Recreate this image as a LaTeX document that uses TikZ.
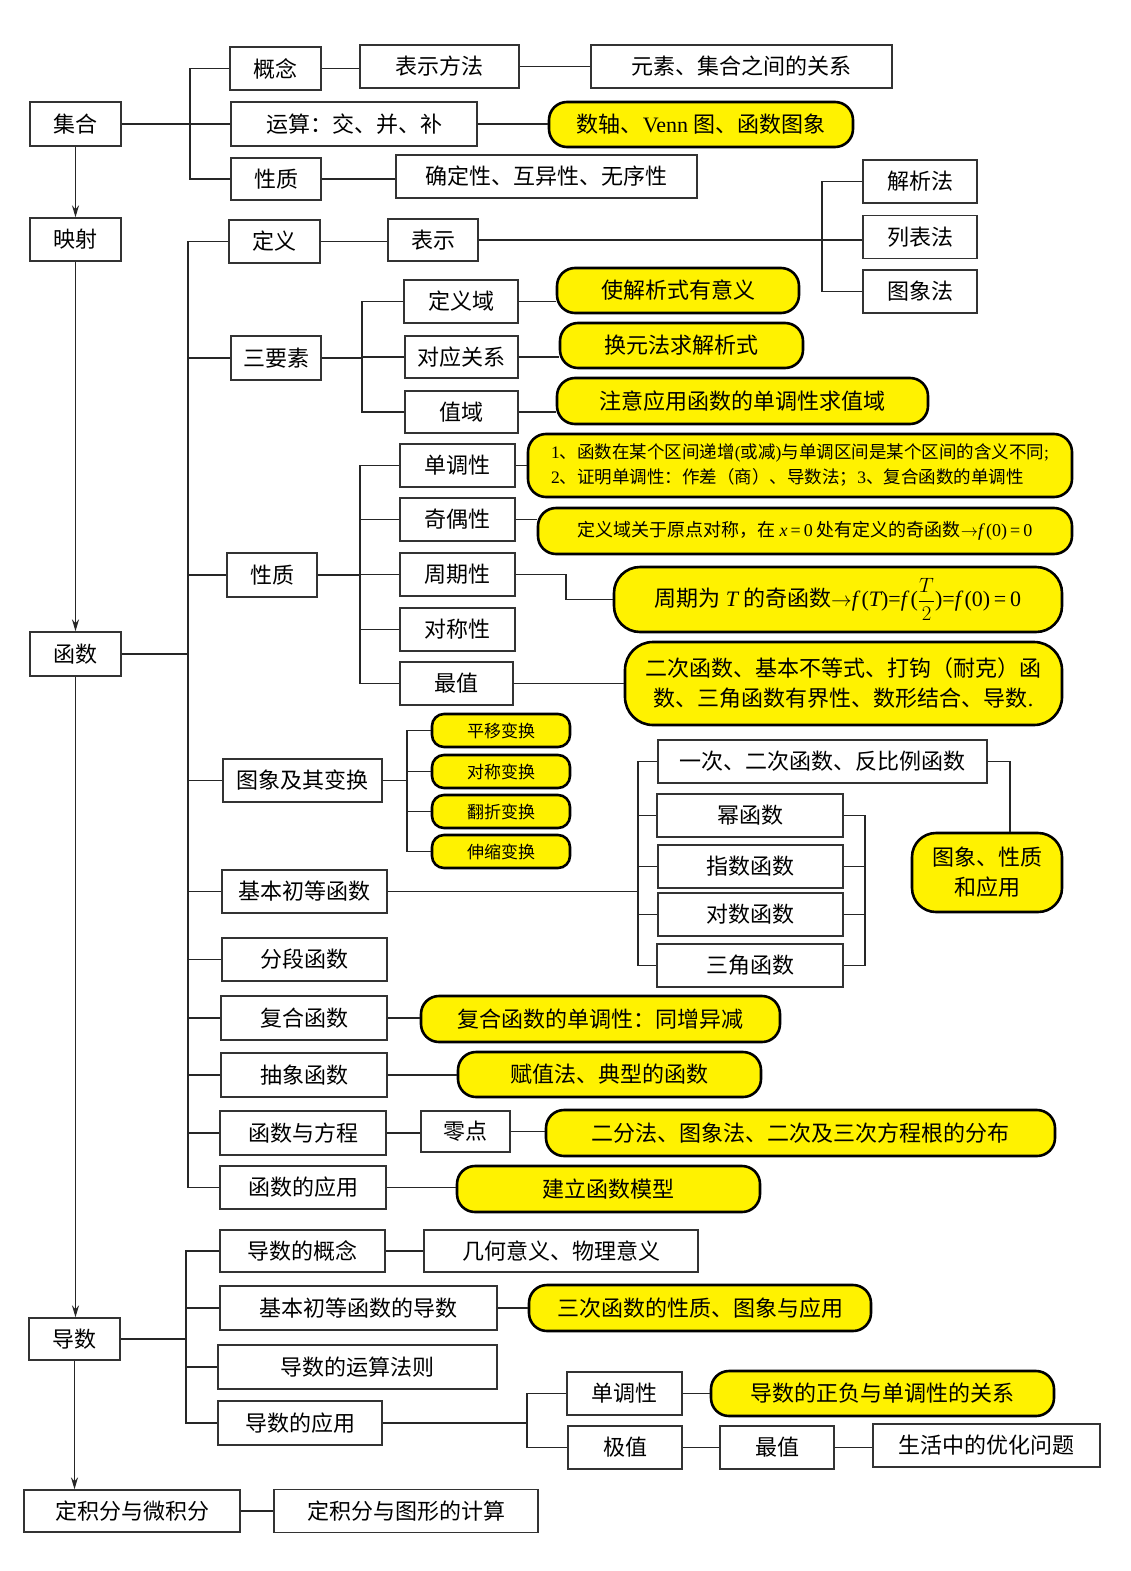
\documentclass[tikz,border=0pt]{standalone}
\usepackage{fontspec}
\setmainfont{Liberation Serif}
\newfontfamily\cjk{Noto Sans CJK SC}
\usetikzlibrary{arrows.meta}
\newcommand\myit[1]{{\rmfamily\itshape #1}}
\newcommand\myrm[1]{{\rmfamily #1}}
\begin{document}
\begin{tikzpicture}[x=1pt,y=-1pt]
\tikzset{
 box/.style={draw=black!80, line width=1.4pt, fill=white, inner sep=0pt, font=\cjk\fontsize{22}{26}\selectfont, align=center},
 ybox/.style={draw=black, line width=2.6pt, fill=yellow, rounded corners=18pt, inner sep=0pt, font=\cjk\fontsize{22}{26}\selectfont, align=center},
 sz/.style 2 args={minimum width=#1pt, minimum height=#2pt},
 ln/.style={line width=1.7pt, draw=black!85},
 arr/.style={line width=1.6pt, draw=black!85, -{Stealth[length=12pt,width=7pt,inset=4pt]}},
}
\useasboundingbox[fill=white] (0,0) rectangle (1130,1571);

% left column
\node[box,sz={91}{44}] (jihe) at (75.5,124) {集合};
\node[box,sz={91}{43}] (yingshe) at (75.5,239.5) {映射};
\node[box,sz={91}{44}] (hanshu) at (75.5,654) {函数};
\node[box,sz={91}{42}] (daoshu) at (74.5,1339) {导数};
\node[box,sz={216}{42}] (djf) at (132,1511) {定积分与微积分};
\node[box,sz={264}{43}] (djft) at (406,1511) {定积分与图形的计算};

% 集合 branch
\node[box,sz={91}{43}] (gn) at (275.5,68.5) {概念};
\node[box,sz={159}{43}] (bsff) at (439.5,66.5) {表示方法};
\node[box,sz={301}{43}] (ysjh) at (741.5,66.5) {元素、集合之间的关系};
\node[box,sz={246}{44}] (ys) at (354,124) {运算：交、并、补};
\node[ybox,sz={304}{45}] (venn) at (701,124.5) {数轴、\myrm{Venn} 图、函数图象};
\node[box,sz={90}{42}] (xz1) at (276,179) {性质};
\node[box,sz={301}{43}] (qd) at (546.5,176.5) {确定性、互异性、无序性};

% 函数 branch
\node[box,sz={91}{43}] (dy) at (274.5,241.5) {定义};
\node[box,sz={90}{42}] (bs) at (433,240) {表示};
\node[box,sz={114}{43}] (jxf) at (920,181.5) {解析法};
\node[box,sz={114}{43}] (lbf) at (920,237) {列表法};
\node[box,sz={114}{43}] (txf) at (920,291.5) {图象法};

\node[box,sz={90}{44}] (syz) at (276,358) {三要素};
\node[box,sz={114}{43}] (dyy) at (461,301.5) {定义域};
\node[box,sz={113}{42}] (dygx) at (461.5,357) {对应关系};
\node[box,sz={113}{42}] (zy) at (461.5,412) {值域};
\node[ybox,sz={242}{45}] (ya) at (678,290.5) {使解析式有意义};
\node[ybox,sz={243}{45}] (yb) at (681.5,345.5) {换元法求解析式};
\node[ybox,sz={371}{46}] (yc3) at (742.5,401) {注意应用函数的单调性求值域};

\node[box,sz={90}{44}] (xz2) at (272,575) {性质};
\node[box,sz={115}{43}] (ddx) at (457.5,465.5) {单调性};
\node[box,sz={115}{43}] (qox) at (457.5,519.5) {奇偶性};
\node[box,sz={115}{43}] (zqx) at (457.5,574.5) {周期性};
\node[box,sz={115}{43}] (dcx) at (457.5,629.5) {对称性};
\node[box,sz={113}{43}] (zz) at (456.5,683.5) {最值};
\node[ybox,sz={544}{63},align=left,font=\cjk\fontsize{17.5}{25}\selectfont] (yd) at (800,465.5)
  {\myrm{1}、函数在某个区间递增\myrm{(}或减\myrm{)}与单调区间是某个区间的含义不同\myrm{;}\\
   \myrm{2}、证明单调性：作差（商）、导数法；\myrm{3}、复合函数的单调性};
\node[ybox,sz={534}{46},font=\cjk\fontsize{18}{22}\selectfont] (ye) at (805,531)
  {定义域关于原点对称，在 \myit{x}\myrm{\,=\,0} 处有定义的奇函数$\to$\myit{f}\,\myrm{(0)\,=\,0}};
\node[ybox,sz={448}{65},rounded corners=26pt] (yf) at (838,599.5)
  {周期为 \myit{T} 的奇函数$\to$\myit{f}\,\myrm{(}\myit{T}\myrm{)=}\myit{f}\,\myrm{(}$\displaystyle\frac{T}{2}$\myrm{)=}\myit{f}\,\myrm{(0)\,=\,0}};
\node[ybox,sz={437}{83},rounded corners=28pt,font=\cjk\fontsize{22}{30}\selectfont] (yg) at (843.5,683.5)
  {二次函数、基本不等式、打钩（耐克）函\\数、三角函数有界性、数形结合、导数\myrm{.}};

\node[box,sz={159}{43}] (txbh) at (302.5,780.5) {图象及其变换};
\node[ybox,sz={138}{33},rounded corners=12pt,font=\cjk\fontsize{17}{20}\selectfont] (py) at (501,730.5) {平移变换};
\node[ybox,sz={138}{33},rounded corners=12pt,font=\cjk\fontsize{17}{20}\selectfont] (dc) at (501,771.5) {对称变换};
\node[ybox,sz={138}{33},rounded corners=12pt,font=\cjk\fontsize{17}{20}\selectfont] (fz) at (501,811.5) {翻折变换};
\node[ybox,sz={138}{33},rounded corners=12pt,font=\cjk\fontsize{17}{20}\selectfont] (sc) at (501,851.5) {伸缩变换};

\node[box,sz={165}{43}] (jbcd) at (304.5,891.5) {基本初等函数};
\node[box,sz={329}{43}] (yc) at (822.5,761.5) {一次、二次函数、反比例函数};
\node[box,sz={186}{43}] (mhs) at (750,815.5) {幂函数};
\node[box,sz={185}{43}] (zshs) at (750.5,866.5) {指数函数};
\node[box,sz={185}{43}] (dshs) at (750.5,914.5) {对数函数};
\node[box,sz={186}{43}] (sjhs) at (750,965.5) {三角函数};
\node[ybox,sz={150}{79},rounded corners=24pt,font=\cjk\fontsize{22}{30}\selectfont] (txxz) at (987,872.5) {图象、性质\\和应用};

\node[box,sz={165}{43}] (fd) at (304.5,959.5) {分段函数};
\node[box,sz={166}{44}] (fh) at (304,1018) {复合函数};
\node[ybox,sz={359}{46}] (yh) at (600.5,1019) {复合函数的单调性：同增异减};
\node[box,sz={166}{44}] (cx) at (304,1075) {抽象函数};
\node[ybox,sz={303}{45}] (yi) at (609.5,1074.5) {赋值法、典型的函数};
\node[box,sz={166}{44}] (hsfc) at (303,1133) {函数与方程};
\node[box,sz={89}{41}] (ld) at (465.5,1131.5) {零点};
\node[ybox,sz={509}{46}] (yj) at (800.5,1133) {二分法、图象法、二次及三次方程根的分布};
\node[box,sz={166}{43}] (hsyy) at (303,1187.5) {函数的应用};
\node[ybox,sz={303}{46}] (yk) at (608.5,1189) {建立函数模型};

% 导数 branch
\node[box,sz={165}{42}] (dsgn) at (302.5,1251) {导数的概念};
\node[box,sz={274}{42}] (jhyy) at (561,1251) {几何意义、物理意义};
\node[box,sz={277}{44}] (jbds) at (358.5,1308) {基本初等函数的导数};
\node[ybox,sz={342}{46}] (yl) at (700,1308) {三次函数的性质、图象与应用};
\node[box,sz={279}{44}] (ysfz) at (357.5,1367) {导数的运算法则};
\node[box,sz={164}{44}] (dsyy) at (300,1423) {导数的应用};
\node[box,sz={115}{43}] (ddx2) at (624.5,1393.5) {单调性};
\node[ybox,sz={343}{45}] (ym) at (882.5,1393.5) {导数的正负与单调性的关系};
\node[box,sz={114}{43}] (jz) at (625,1447.5) {极值};
\node[box,sz={114}{43}] (zz2) at (777,1447.5) {最值};
\node[box,sz={227}{43}] (shyh) at (986.5,1445.5) {生活中的优化问题};

% arrows in left column
\draw[arr] (jihe.south) -- (yingshe.north);
\draw[arr] (yingshe.south) -- (hanshu.north);
\draw[arr] (hanshu.south) -- (hanshu.south |- daoshu.north);
\draw[arr] (daoshu.south) -- (daoshu.south |- djf.north);
\draw[ln] (djf.east) -- (djf.east -| djft.west);

% 集合 connectors
\coordinate (b1) at (190,0);
\draw[ln] (jihe.east) -- (jihe.east -| b1);
\draw[ln] (gn.west) -- (gn.west -| b1) -- (xz1.west -| b1) -- (xz1.west);
\draw[ln] (ys.west) -- (ys.west -| b1);
\draw[ln] (gn.east) -- (gn.east -| bsff.west);
\draw[ln] (bsff.east) -- (bsff.east -| ysjh.west);
\draw[ln] (ys.east) -- (ys.east -| venn.west);
\draw[ln] (xz1.east) -- (xz1.east -| qd.west);

% 函数 connectors
\coordinate (b2) at (188,0);
\draw[ln] (hanshu.east) -- (hanshu.east -| b2);
\draw[ln] (dy.west) -- (dy.west -| b2) -- (hsyy.west -| b2) -- (hsyy.west);
\foreach \c in {syz,xz2,txbh,jbcd,fd,fh,cx,hsfc} {\draw[ln] (\c.west) -- (\c.west -| b2);}
\draw[ln] (dy.east) -- (dy.east -| bs.west);
\coordinate (b3) at (822,0);
\draw[ln] (bs.east) -- (bs.east -| lbf.west);
\draw[ln] (jxf.west) -- (jxf.west -| b3) -- (txf.west -| b3) -- (txf.west);

\coordinate (b4) at (362,0);
\draw[ln] (syz.east) -- (syz.east -| b4);
\draw[ln] (dyy.west) -- (dyy.west -| b4) -- (zy.west -| b4) -- (zy.west);
\draw[ln] (dygx.west) -- (dygx.west -| b4);
\draw[ln] (dyy.east) -- (dyy.east -| ya.west);
\draw[ln] (dygx.east) -- (dygx.east -| yb.west);
\draw[ln] (zy.east) -- (zy.east -| yc3.west);

\coordinate (b5) at (360,0);
\draw[ln] (xz2.east) -- (xz2.east -| b5);
\draw[ln] (ddx.west) -- (ddx.west -| b5) -- (zz.west -| b5) -- (zz.west);
\foreach \c in {qox,zqx,dcx} {\draw[ln] (\c.west) -- (\c.west -| b5);}
\draw[ln] (ddx.east) -- (ddx.east -| yd.west);
\draw[ln] (qox.east) -- (qox.east -| ye.west);
\coordinate (k2) at (566,0);
\draw[ln] (zqx.east) -- (zqx.east -| k2) -- (yf.west -| k2) -- (yf.west);
\draw[ln] (zz.east) -- (zz.east -| yg.west);

\coordinate (b6) at (407,0);
\draw[ln] (txbh.east) -- (txbh.east -| b6);
\draw[ln] (py.west) -- (py.west -| b6) -- (sc.west -| b6) -- (sc.west);
\draw[ln] (dc.west) -- (dc.west -| b6);
\draw[ln] (fz.west) -- (fz.west -| b6);

\coordinate (b7) at (638,0);
\draw[ln] (jbcd.east) -- (jbcd.east -| b7);
\draw[ln] (yc.west) -- (yc.west -| b7) -- (sjhs.west -| b7) -- (sjhs.west);
\foreach \c in {mhs,zshs,dshs} {\draw[ln] (\c.west) -- (\c.west -| b7);}
\coordinate (b8) at (865,0);
\draw[ln] (mhs.east) -- (mhs.east -| b8) -- (sjhs.east -| b8) -- (sjhs.east);
\draw[ln] (zshs.east) -- (zshs.east -| b8);
\draw[ln] (dshs.east) -- (dshs.east -| b8);
\coordinate (k1) at (1010,0);
\draw[ln] (yc.east) -- (yc.east -| k1) -- (txxz.north -| k1);

\draw[ln] (fh.east) -- (fh.east -| yh.west);
\draw[ln] (cx.east) -- (cx.east -| yi.west);
\draw[ln] (hsfc.east) -- (hsfc.east -| ld.west);
\draw[ln] (ld.east) -- (ld.east -| yj.west);
\draw[ln] (hsyy.east) -- (hsyy.east -| yk.west);

% 导数 connectors
\coordinate (b9) at (186,0);
\draw[ln] (daoshu.east) -- (daoshu.east -| b9);
\draw[ln] (dsgn.west) -- (dsgn.west -| b9) -- (dsyy.west -| b9) -- (dsyy.west);
\draw[ln] (jbds.west) -- (jbds.west -| b9);
\draw[ln] (ysfz.west) -- (ysfz.west -| b9);
\draw[ln] (dsgn.east) -- (dsgn.east -| jhyy.west);
\draw[ln] (jbds.east) -- (jbds.east -| yl.west);
\coordinate (b10) at (527,0);
\draw[ln] (dsyy.east) -- (dsyy.east -| b10);
\draw[ln] (ddx2.west) -- (ddx2.west -| b10) -- (jz.west -| b10) -- (jz.west);
\draw[ln] (ddx2.east) -- (ddx2.east -| ym.west);
\draw[ln] (jz.east) -- (jz.east -| zz2.west);
\draw[ln] (zz2.east) -- (zz2.east -| shyh.west);
\end{tikzpicture}
\end{document}
